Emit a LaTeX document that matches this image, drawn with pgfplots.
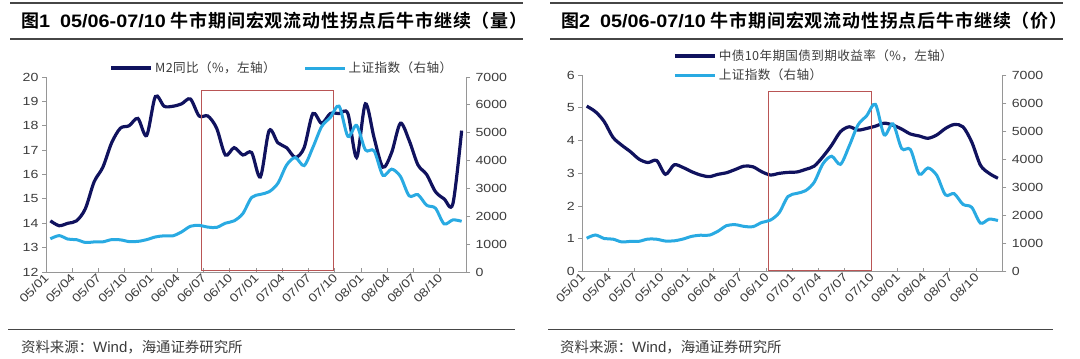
\documentclass[border=0pt]{standalone}
\usepackage{pgfplots}
\usepackage{pgfplotstable}
\pgfplotsset{compat=1.18}
\usepackage{fontspec}
\setmainfont{Liberation Sans}
\newfontfamily\tickfont{Liberation Sans}[FakeStretch=1.2]
\newfontfamily\titlelatin{Liberation Sans}[FakeStretch=1.1]
\newfontfamily\cjk{Noto Sans CJK SC}[BoldFont={Noto Sans CJK SC Bold}]
\newfontfamily\cjktitle{Noto Sans CJK SC}[BoldFont={Noto Sans CJK SC Bold}, LetterSpace=4.5]
\newfontfamily\cjkleg{Noto Sans CJK SC}[LetterSpace=3]
\definecolor{navy}{RGB}{16,18,94}
\definecolor{sky}{RGB}{41,170,226}
\definecolor{axgray}{RGB}{150,150,150}
\definecolor{boxred}{RGB}{185,85,85}
\definecolor{rulegray}{RGB}{70,70,70}
\definecolor{labgray}{RGB}{60,60,60}

\pgfplotstableread{
i m2 sse yld
0.5 14.1 1191 5.05
1.5 13.9 1306 4.88
2.5 14.0 1181 4.58
3.5 14.1 1159 4.10
4.5 14.6 1060 3.86
5.5 15.7 1080 3.66
6.5 16.3 1083 3.43
7.5 17.3 1162 3.33
8.5 17.9 1155 3.39
9.5 18.0 1092 2.97
10.5 18.3 1099 3.26
11.5 17.6 1161 3.18
12.5 19.2 1258 3.05
13.5 18.8 1299 2.95
14.5 18.8 1299 2.90
15.5 18.9 1440 2.97
16.5 19.1 1642 3.02
17.5 18.4 1672 3.12
18.5 18.4 1612 3.22
19.5 17.9 1601 3.20
20.5 16.8 1752 3.05
21.5 17.1 1837 2.95
22.5 16.8 2099 3.00
23.5 16.9 2675 3.03
24.5 15.9 2786 3.04
25.5 17.8 2881 3.12
26.5 17.3 3183 3.22
27.5 17.1 3841 3.51
28.5 16.7 4109 3.86
29.5 17.1 3821 4.27
30.5 18.5 4471 4.42
31.5 18.1 5219 4.32
32.5 18.5 5552 4.37
33.5 18.5 5954 4.44
34.5 18.5 4871 4.53
35.5 16.7 5262 4.47
36.5 18.9 4383 4.35
37.5 17.5 4348 4.20
38.5 16.3 3472 4.14
39.5 16.9 3693 4.07
40.5 18.1 3433 4.17
41.5 17.4 2736 4.37
42.5 16.4 2776 4.49
43.5 16.0 2397 4.42
44.5 15.3 2293 3.96
45.5 15.0 1729 3.25
46.5 14.8 1871 3.00
47.5 17.8 1821 2.85
}\datatable

\pgfplotsset{
  base/.style={
    scale only axis, width=420bp,
    xmin=0, xmax=48,
    axis line style={-, draw=axgray, line width=1bp},
    tick style={draw=axgray, line width=0.9bp},
    major tick length=4bp,
    tick label style={font=\tickfont\fontsize{11.8bp}{12bp}\selectfont, text=labgray},
    /pgf/number format/assume math mode=true,
    /pgf/number format/set thousands separator={},
    scaled y ticks=false,
    clip=false,
  },
  leftax/.style={
    base,
    axis x line*=bottom, axis y line*=left,
    tick align=inside,
    ytick style={xshift=-4bp},
    xtick={0,3,...,48},
    xticklabels={05/01,05/04,05/07,05/10,06/01,06/04,06/07,06/10,07/01,07/04,07/07,07/10,08/01,08/04,08/07,08/10,},
    xticklabel style={rotate=45, anchor=east, inner sep=1bp, yshift=-3bp, xshift=-1bp},
    yticklabel style={xshift=-4bp},
  },
  rightax/.style={
    base,
    axis x line=none, axis y line*=right,
    tick align=outside,
    ymin=0, ymax=7000, ytick={0,1000,...,7000},
    yticklabel style={xshift=2bp},
    legend image code/.code={\draw[##1] (0bp,0bp) -- (40bp,0bp);},
  },
  navyline/.style={navy, line width=3.2bp, smooth, tension=0.5},
  skyline/.style={sky, line width=3bp, smooth, tension=0.5},
}

\begin{document}
\begin{tikzpicture}[x=1bp,y=1bp]
\useasboundingbox (0,0) rectangle (1080,358);

% ---------- Panel 1 frame ----------
\draw[rulegray, line width=1.2bp] (10,355) -- (523,355);
\draw[rulegray, line width=1.2bp] (10,319) -- (523,319);
\node[anchor=west, inner sep=0] at (21,337.5) {\fontsize{18bp}{20bp}\selectfont\bfseries{\cjk 图}{\titlelatin 1\hspace{10bp}05/06-07/10}\hspace{5bp}{\cjktitle 牛市期间宏观流动性拐点后牛市继续（量）}};
\draw[rulegray, line width=1bp] (8,29) -- (515,29);
\node[anchor=west, inner sep=0, text=labgray] at (21,11) {\cjk\fontsize{14.4bp}{16bp}\selectfont 资料来源：{\fontspec{Liberation Sans}\fontsize{15bp}{16bp}\selectfont Wind}，海通证券研究所};

% ---------- Panel 2 frame ----------
\draw[rulegray, line width=1.2bp] (550,355) -- (1063,355);
\draw[rulegray, line width=1.2bp] (550,319) -- (1063,319);
\node[anchor=west, inner sep=0] at (561,337.5) {\fontsize{18bp}{20bp}\selectfont\bfseries{\cjk 图}{\titlelatin 2\hspace{10bp}05/06-07/10}\hspace{5bp}{\cjktitle 牛市期间宏观流动性拐点后牛市继续（价）}};
\draw[rulegray, line width=1bp] (548,29) -- (1053,29);
\node[anchor=west, inner sep=0, text=labgray] at (560,11) {\cjk\fontsize{14.4bp}{16bp}\selectfont 资料来源：{\fontspec{Liberation Sans}\fontsize{15bp}{16bp}\selectfont Wind}，海通证券研究所};

% ---------- Panel 1 axes ----------
\begin{axis}[leftax, at={(46bp,86bp)}, anchor=south west, height=195bp,
  ymin=12, ymax=20, ytick={12,...,20}]
  \addplot[navyline] table[x=i, y=m2] {\datatable};
  \draw[boxred, line width=0.9bp] (axis cs:17.8,19.43) rectangle (axis cs:32.9,12.08);
\end{axis}
\begin{axis}[rightax, at={(46bp,86bp)}, anchor=south west, height=195bp,
  legend style={draw=none, fill=none, at={(0.143,1.046)}, anchor=west,
    legend columns=2, font=\cjkleg\fontsize{12.6bp}{14bp}\selectfont, text=labgray,
    /tikz/every even column/.append style={column sep=26bp}},
  legend cell align=left]
  \addlegendimage{navy, line width=4bp}
  \addlegendentry{M2同比（\%，左轴）}
  \addplot[skyline] table[x=i, y=sse] {\datatable};
  \addlegendentry{上证指数（右轴）}
\end{axis}

% ---------- Panel 2 axes ----------
\begin{axis}[leftax, at={(582.3bp,86.3bp)}, anchor=south west, height=196.7bp,
  ymin=0, ymax=6, ytick={0,...,6}]
  \addplot[navyline] table[x=i, y=yld] {\datatable};
  \draw[boxred, line width=0.9bp] (axis cs:21.26,5.51) rectangle (axis cs:33.0,0.03);
\end{axis}
\begin{axis}[rightax, at={(582.3bp,86.3bp)}, anchor=south west, height=196.7bp,
  legend style={draw=none, fill=none, at={(0.208,1.15)}, anchor=north west,
    legend columns=1, font=\cjkleg\fontsize{12.6bp}{14bp}\selectfont, text=labgray,
    row sep=3bp},
  legend cell align=left]
  \addlegendimage{navy, line width=4bp}
  \addlegendentry{中债10年期国债到期收益率（\%，左轴）}
  \addplot[skyline] table[x=i, y=sse] {\datatable};
  \addlegendentry{上证指数（右轴）}
\end{axis}
\end{tikzpicture}
\end{document}
